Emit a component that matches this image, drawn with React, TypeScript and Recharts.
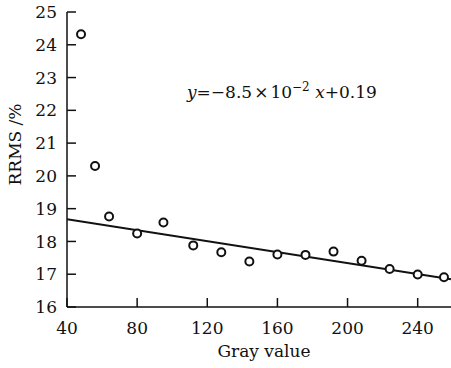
import React from 'react';
import { ComposedChart, Scatter, Line, XAxis, YAxis, Label } from 'recharts';

const grayValues = [48, 56, 64, 80, 95, 112, 128, 144, 160, 176, 192, 208, 224, 240, 255];
const rrmsValues = [24.32, 20.3, 18.76, 18.24, 18.58, 17.88, 17.67, 17.39, 17.6, 17.59, 17.69, 17.41, 17.16, 16.99, 16.91];
const fitX = [40, 259];
const fitY = [18.68, 16.85];
const xTicks = [40, 80, 120, 160, 200, 240];
const yTicks = [16, 17, 18, 19, 20, 21, 22, 23, 24, 25];

const points = grayValues.map((x, i) => ({ x, y: rrmsValues[i] }));
const fitLine = fitX.map((x, i) => ({ x, y: fitY[i] }));

const FONT = '"DejaVu Serif", serif';
const FS = 17;
const INK = '#111';
const TICK_LEN = 9;

const YTick = (props: any) => {
  const { x, y, payload } = props;
  return (
    <g>
      <line x1={x + 10} x2={x + 10 + TICK_LEN} y1={y} y2={y} stroke={INK} strokeWidth={1.5} />
      <text x={x} y={y} dy="0.36em" textAnchor="end" fontFamily={FONT} fontSize={FS} fill={INK}>
        {payload.value}
      </text>
    </g>
  );
};

const XTick = (props: any) => {
  const { x, y, payload } = props;
  return (
    <g>
      <line x1={x} x2={x} y1={y - 15} y2={y - 15 - TICK_LEN} stroke={INK} strokeWidth={1.5} />
      <text x={x} y={y} dy="0.73em" textAnchor="middle" fontFamily={FONT} fontSize={FS} fill={INK}>
        {payload.value}
      </text>
    </g>
  );
};

const Dot = (props: any) => {
  const { cx, cy } = props;
  return <circle cx={cx} cy={cy} r={4} fill="#fff" stroke={INK} strokeWidth={2} />;
};

export default function App() {
  return (
    <div style={{ position: 'absolute', left: 0, top: 0, width: 451, height: 368, background: '#fff' }}>
      <ComposedChart width={451} height={368} margin={{ top: 12, right: 0, bottom: 0, left: 0 }}>
        <XAxis
          type="number"
          dataKey="x"
          domain={[40, 259]}
          ticks={xTicks}
          allowDataOverflow
          height={61}
          tickSize={0}
          tickMargin={15}
          tickLine={false}
          tick={<XTick />}
          axisLine={{ stroke: INK, strokeWidth: 1.5 }}
        >
          <Label
            content={(p: any) => {
              const vb = p.viewBox;
              return (
                <text
                  x={vb.x + vb.width / 2 + 5}
                  y={357}
                  textAnchor="middle"
                  fontFamily={FONT}
                  fontSize={FS}
                  fill={INK}
                >
                  Gray value
                </text>
              );
            }}
          />
        </XAxis>
        <YAxis
          type="number"
          dataKey="y"
          domain={[16, 25]}
          ticks={yTicks}
          width={67}
          tickSize={0}
          tickMargin={10}
          tickLine={false}
          tick={<YTick />}
          axisLine={{ stroke: INK, strokeWidth: 1.5 }}
        >
          <Label
            content={(p: any) => {
              const vb = p.viewBox;
              const cx = 21;
              const cy = vb.y + vb.height / 2 - 15;
              return (
                <text
                  x={cx}
                  y={cy}
                  transform={`rotate(-90 ${cx} ${cy})`}
                  textAnchor="middle"
                  fontFamily={FONT}
                  fontSize={FS}
                  fill={INK}
                >
                  RRMS /%
                </text>
              );
            }}
          />
        </YAxis>
        <Line
          data={fitLine}
          dataKey="y"
          type="linear"
          stroke={INK}
          strokeWidth={2}
          dot={false}
          activeDot={false}
          isAnimationActive={false}
        />
        <Scatter data={points} dataKey="y" shape={<Dot />} isAnimationActive={false} />
      </ComposedChart>
      <div
        style={{
          position: 'absolute',
          left: 187,
          top: 84,
          fontFamily: FONT,
          fontSize: FS,
          lineHeight: '17px',
          color: INK,
          whiteSpace: 'nowrap',
        }}
      >
        <i>y</i>=−8.5<span style={{ margin: '0 2px' }}>×</span>10
        <span style={{ fontSize: 12, position: 'relative', top: -7 }}>−2</span> <i>x</i>+0.19
      </div>
    </div>
  );
}
